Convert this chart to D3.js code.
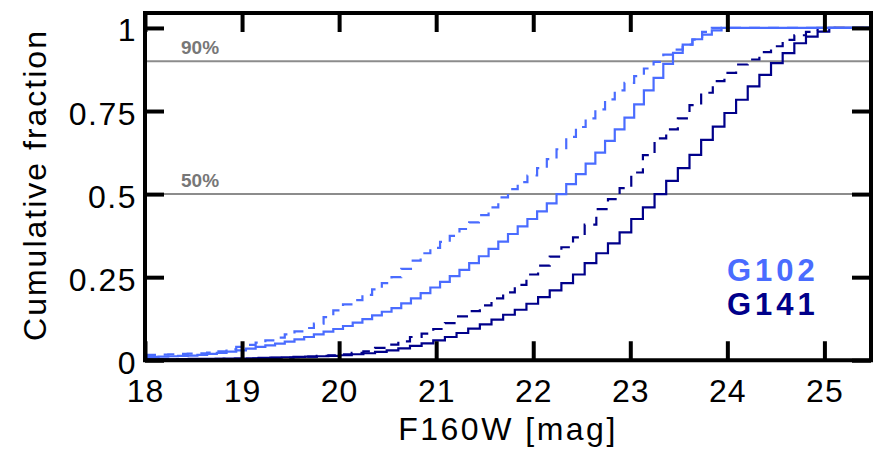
<!DOCTYPE html>
<html>
<head>
<meta charset="utf-8">
<script src="https://cdn.jsdelivr.net/npm/d3@7"></script>
<style>
  html, body { margin: 0; padding: 0; background: #fff; }
  svg { display: block; }
  text { font-family: "Liberation Sans", Arial, Helvetica, sans-serif; }
</style>
</head>
<body>
<svg id="chart" width="878" height="451"></svg>
<script>
// Cumulative F160W magnitude distributions, one value per histogram bin.
const g102BinStart = 18.04;
const g102BinWidth = 0.1;
const g102Solid = [
  0.010, 0.011, 0.012, 0.013, 0.014, 0.016, 0.019, 0.022, 0.026, 0.030,
  0.035, 0.040, 0.045, 0.050, 0.056, 0.063, 0.070, 0.078, 0.086, 0.094,
  0.103, 0.113, 0.124, 0.135, 0.146, 0.157, 0.171, 0.186, 0.202, 0.219,
  0.236, 0.253, 0.272, 0.292, 0.313, 0.335, 0.357, 0.380, 0.403, 0.425,
  0.448, 0.472, 0.500, 0.530, 0.560, 0.592, 0.625, 0.660, 0.695, 0.730,
  0.770, 0.812, 0.850, 0.892, 0.925, 0.950, 0.966, 0.980, 0.993, 1.000
];
const g102Dashed = [
  0.016, 0.017, 0.018, 0.019, 0.020, 0.021, 0.023, 0.027, 0.033, 0.040,
  0.046, 0.053, 0.060, 0.068, 0.078, 0.087, 0.097, 0.110, 0.130, 0.150,
  0.168, 0.181, 0.197, 0.213, 0.232, 0.250, 0.275, 0.300, 0.322, 0.338,
  0.356, 0.374, 0.395, 0.415, 0.437, 0.460, 0.490, 0.515, 0.536, 0.556,
  0.578, 0.605, 0.635, 0.672, 0.702, 0.728, 0.755, 0.785, 0.812, 0.835,
  0.855, 0.878, 0.898, 0.920, 0.935, 0.950, 0.965, 0.988, 1.000
];

const g141BinStart = 17.97;
const g141BinWidth = 0.12;
const g141Solid = [
  0.003, 0.003, 0.003, 0.003, 0.004, 0.004, 0.004, 0.005, 0.005, 0.006,
  0.007, 0.008, 0.009, 0.010, 0.011, 0.012, 0.013, 0.015, 0.018, 0.021,
  0.025, 0.030, 0.036, 0.043, 0.051, 0.060, 0.070, 0.082, 0.095, 0.108,
  0.122, 0.137, 0.152, 0.170, 0.190, 0.210, 0.232, 0.258, 0.292, 0.322,
  0.352, 0.385, 0.425, 0.460, 0.500, 0.540, 0.578, 0.618, 0.663, 0.703,
  0.744, 0.784, 0.824, 0.859, 0.894, 0.924, 0.954, 0.974, 0.989, 1.000
];
const g141Dashed = [
  0.002, 0.002, 0.002, 0.003, 0.003, 0.003, 0.004, 0.004, 0.005, 0.005,
  0.006, 0.007, 0.008, 0.009, 0.011, 0.013, 0.015, 0.018, 0.022, 0.027,
  0.037, 0.047, 0.057, 0.070, 0.080, 0.094, 0.112, 0.132, 0.148, 0.165,
  0.186, 0.204, 0.227, 0.258, 0.285, 0.312, 0.340, 0.370, 0.408, 0.455,
  0.485, 0.518, 0.565, 0.617, 0.668, 0.695, 0.728, 0.768, 0.805, 0.840,
  0.865, 0.890, 0.905, 0.927, 0.945, 0.964, 0.978, 0.988, 1.000
];

const xTicks = [18, 19, 20, 21, 22, 23, 24, 25];
const yTicks = [0, 0.25, 0.5, 0.75, 1];
const yTickLabels = ["0", "0.25", "0.5", "0.75", "1"];
const refLevels = [0.5, 0.9];
const refLabels = ["50%", "90%"];
const legendNames = ["G102", "G141"];

const colG102 = "#4a6cff";
const colG141 = "#00008a";

const xMin = 18, xMax = 25.48;
const x = d3.scaleLinear().domain([xMin, xMax]).range([145, 871]);
const y = d3.scaleLinear().domain([0, 1.045]).range([360.25, 13]);

const svg = d3.select("#chart");

svg.append("defs").append("clipPath").attr("id", "plotclip")
  .append("rect")
  .attr("x", x(xMin)).attr("y", y(1.045))
  .attr("width", x(xMax) - x(xMin)).attr("height", y(0) - y(1.045));

// Reference levels
const refG = svg.append("g");
refLevels.forEach((lv, i) => {
  refG.append("line")
    .attr("x1", x(xMin)).attr("x2", x(xMax))
    .attr("y1", y(lv)).attr("y2", y(lv))
    .attr("stroke", "#8c8c8c").attr("stroke-width", 2);
  refG.append("text")
    .attr("x", 181).attr("y", y(lv) - 7)
    .attr("font-size", 19).attr("font-weight", "bold")
    .attr("fill", "#777").text(refLabels[i]);
});

// Step curves
function stepPoints(start, width, vals) {
  const pts = [[xMin, vals[0]]];
  vals.forEach((v, i) => pts.push([start + i * width, v]));
  pts.push([xMax, vals[vals.length - 1]]);
  return pts;
}
const line = d3.line().x(d => x(d[0])).y(d => y(d[1])).curve(d3.curveStepAfter);

const curves = svg.append("g").attr("clip-path", "url(#plotclip)");
const seriesList = [
  { start: g141BinStart, width: g141BinWidth, vals: g141Dashed, color: colG141, dash: "11,8" },
  { start: g141BinStart, width: g141BinWidth, vals: g141Solid, color: colG141, dash: null },
  { start: g102BinStart, width: g102BinWidth, vals: g102Dashed, color: colG102, dash: "11,8" },
  { start: g102BinStart, width: g102BinWidth, vals: g102Solid, color: colG102, dash: null }
];
seriesList.forEach(s => {
  curves.append("path")
    .attr("d", line(stepPoints(s.start, s.width, s.vals)))
    .attr("fill", "none")
    .attr("stroke", s.color)
    .attr("stroke-width", 2.2)
    .attr("stroke-dasharray", s.dash);
});

// Axes with inward ticks on all four sides
const tickLen = 19;
const fontSize = 32;

const xAxisB = svg.append("g").attr("transform", `translate(0,${y(0)})`)
  .call(d3.axisBottom(x).tickValues(xTicks).tickFormat(d3.format("d")).tickSize(-tickLen));
xAxisB.selectAll("text").attr("y", 42).attr("dy", null)
  .attr("font-size", fontSize).attr("fill", "#000").style("letter-spacing", "1px");

const xAxisT = svg.append("g").attr("transform", `translate(0,${y(1.045)})`)
  .call(d3.axisTop(x).tickValues(xTicks).tickFormat("").tickSize(-tickLen));

const yAxisL = svg.append("g").attr("transform", `translate(${x(xMin)},0)`)
  .call(d3.axisLeft(y).tickValues(yTicks).tickFormat((d, i) => yTickLabels[i]).tickSize(-tickLen));
yAxisL.selectAll("text").attr("x", -8).attr("dy", null).attr("y", 13)
  .attr("font-size", fontSize).attr("fill", "#000").style("letter-spacing", "1.5px");

const yAxisR = svg.append("g").attr("transform", `translate(${x(xMax)},0)`)
  .call(d3.axisRight(y).tickValues(yTicks).tickFormat("").tickSize(-tickLen));

[xAxisB, xAxisT, yAxisL, yAxisR].forEach(g => {
  g.select(".domain").remove();
  g.selectAll(".tick line").attr("stroke", "#000").attr("stroke-width", 4);
});

// Frame
svg.append("rect")
  .attr("x", x(xMin)).attr("y", y(1.045))
  .attr("width", x(xMax) - x(xMin)).attr("height", y(0) - y(1.045))
  .attr("fill", "none").attr("stroke", "#000").attr("stroke-width", 4);

// Axis titles
svg.append("text")
  .attr("x", 508).attr("y", 440)
  .attr("text-anchor", "middle").attr("font-size", fontSize)
  .style("letter-spacing", "2.5px")
  .text("F160W [mag]");

svg.append("text")
  .attr("transform", "translate(46,185) rotate(-90)")
  .attr("text-anchor", "middle").attr("font-size", fontSize)
  .style("letter-spacing", "2px")
  .text("Cumulative fraction");

// Legend
const legendColors = [colG102, colG141];
legendNames.forEach((nm, i) => {
  svg.append("text")
    .attr("x", 727).attr("y", 281 + i * 34)
    .attr("font-size", 31).attr("font-weight", "bold")
    .attr("fill", legendColors[i])
    .style("letter-spacing", "4px")
    .text(nm);
});
</script>
</body>
</html>
